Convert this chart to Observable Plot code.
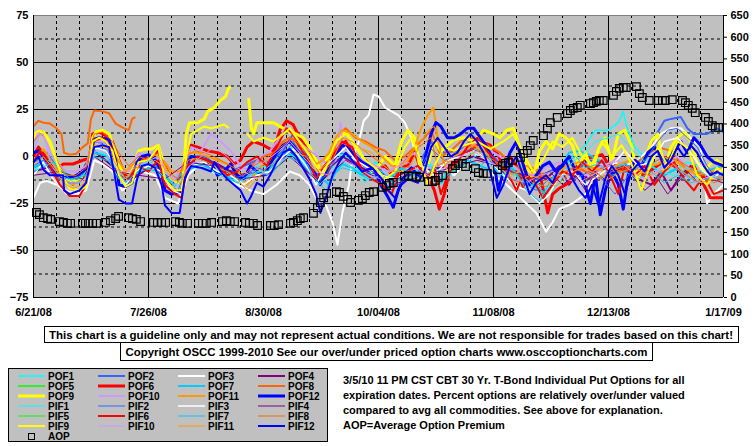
<!DOCTYPE html>
<html><head><meta charset="utf-8">
<script src="https://cdn.jsdelivr.net/npm/d3@7"></script>
<script src="https://cdn.jsdelivr.net/npm/@observablehq/plot@0.6"></script>
<style>
body{margin:0;background:#fff;width:755px;height:446px;position:relative;overflow:hidden;font-family:"Liberation Sans",Arial,sans-serif}
#chart{position:absolute;left:0;top:0}
#below{position:absolute;left:0;top:0}
</style></head><body>
<div id="chart"></div>
<svg id="below" width="755" height="446"></svg>
<script>
// ---- axis / tick data ----
const tickDays = [0, 35, 70, 105, 140, 175, 210];
const tickLabels = ["6/21/08", "7/26/08", "8/30/08", "10/04/08", "11/08/08", "12/13/08", "1/17/09"];
const leftTicks = [-75, -50, -25, 0, 25, 50, 75];
const rightTicks = [0, 50, 100, 150, 200, 250, 300, 350, 400, 450, 500, 550, 600, 650];
const rightMax = 650;

// ---- series (x = days since 6/21/08, y = percent over/under) ----
const pof1 = [[0,-5],[5,0],[9,-8],[14,-12],[18,5],[22,3],[26,-10],[30,-8],[35,-2],[40,-10],[44,-14],[48,0],[53,-2],[58,-8],[63,-12],[68,-5],[73,-6],[78,5],[83,-3],[87,-12],[90,-8],[94,2],[98,-5],[101,-12],[104,-3],[108,-8],[112,-10],[116,-8],[120,-2],[124,-12],[128,-5],[132,0],[136,5],[140,-3],[144,-10],[148,-5],[152,-12],[156,-18],[160,-10],[164,0],[168,6],[171,14],[175,14],[178,18],[179.5,24],[180.5,16],[183,5],[187,-2],[191,-5],[195,-8],[199,-3],[203,-5],[207,-10],[210,-8]];
const pof2 = [[0,-3],[4,2],[8,-8],[12,-12],[16,-8],[18.5,8],[22,7],[25,-8],[29,-10],[33,-3],[37,-1],[40,-10],[44,-12],[47,0],[52,0],[56,-5],[60,-8],[64,-5],[68,-2],[72,-3],[76,3],[79,12],[82,5],[86,-10],[89,-6],[93,6],[97,3],[101,-3],[105,-6],[109,-15],[113,-8],[117,-5],[121,8],[125,2],[129,3],[133,8],[137,6],[141,-2],[145,-8],[149,-10],[153,-12],[157,-8],[161,-5],[165,-8],[169,-2],[173,-3],[177,-4],[181,-5],[184,-3],[187,3],[190,13],[192,19],[194,20],[197,21],[199,15],[201,12],[205,12],[208,15],[210,13]];
const pof3 = [[0,-22],[2,-14],[4,-13],[7,-15],[10,-18],[13,-20],[16,-18],[18.5,-2],[21,-4],[24,-8],[27,-18],[30,-14],[33,-8],[37,-10],[40,-22],[44,-25],[47,-10],[50,-5],[54,-8],[58,-10],[62,-15],[66,-18],[70,-20],[74,-15],[78,-8],[81,-10],[84,-15],[86,-22],[87.5,-26],[89,-26],[91,-35],[92.5,-47],[94,-30],[96,-15],[97,-2],[99,8],[100.5,19],[102,22],[103.5,33],[105,32],[107,26],[109,24],[111,22],[113,18],[115,10],[117,-3],[119,-6],[121,-10],[124,-5],[128,-10],[132,-2],[136,2],[140,-10],[144,-15],[147,-20],[150,-25],[153,-30],[156,-40],[158,-35],[160,-28],[164,-25],[168,-20],[172,-8],[176,-3],[180,-5],[184,-2],[188,5],[191,12],[194,15],[197,15],[200,10],[203,5],[205,-25],[207,-20],[210,-15]];
const pof4 = [[0,-8],[6,-5],[12,-15],[18.5,3],[24,-5],[30,-12],[36,-5],[42,-15],[48,-5],[55,-3],[62,-10],[70,-8],[78,2],[86,-12],[94,0],[102,-8],[110,-12],[118,-8],[126,-5],[134,0],[142,-5],[150,-10],[156,-12],[160,-5],[163,-15],[166,-8],[169,-12],[172,-5],[176,-10],[180,-4],[184,-12],[188,-15],[191,-8],[194,-18],[197,-10],[200,-5],[204,-12],[207,-8],[210,-10]];
const pof5 = [[0,0],[1.5,5],[4,-1],[7,-7],[9,-4],[12,-4],[15,-2],[17,-1],[18,12],[20,13],[22,11],[24,8],[26,-2],[28,-10],[30,-8],[32,-3],[35,0],[38,3],[40,-5],[42,-12],[45,-12],[46.5,0],[48,6],[50,5],[53,3],[56,2],[59,0],[61,-4],[63,-2],[65,5],[67,8],[70,6],[73,3],[75,14],[77,19],[79,17],[81,10],[83,5],[85,0],[87,-8],[89,-10],[91,-3],[93,5],[95,8],[97,2],[99,-5],[101,-2],[104,-8],[107,-5],[110,-12],[112,-5],[114,-5],[116,3],[118,-8],[120,-10],[122,-18],[123.5,-28],[125,-20],[127,-5],[130,2],[133,3],[136,8],[139,6],[141,2],[143,-5],[145,0],[147,-5],[149,-16],[151,-6],[154,-8],[156.5,-30],[158,-20],[160,-17],[163,-14],[165,-6],[168,-1],[171,0],[173,1],[175,-4],[178,-6],[180,-7],[183,-8],[186,-10],[189,-6],[192,-2],[195,-5],[198,-10],[201,-5],[204,-15],[206,-22],[210,-22]];
const pof6 = [[0,0],[1.5,5],[4,-1],[7,-7],[9,-4],[12,-4],[15,-2],[17,-1],[18,12],[20,13],[22,11],[24,8],[26,-2],[28,-10],[30,-8],[32,-3],[35,0],[38,3],[40,-5],[42,-12],[45,-12],[46.5,0],[48,6],[50,5],[53,3],[56,2],[59,0],[61,-4],[63,-2],[65,5],[67,8],[70,6],[73,3],[75,14],[77,19],[79,17],[81,10],[83,5],[85,0],[87,-8],[89,-10],[91,-3],[93,5],[95,8],[97,2],[99,-5],[101,-2],[104,-8],[107,-5],[110,-12],[112,-5],[114,-5],[116,3],[118,-8],[120,-10],[122,-18],[123.5,-28],[125,-20],[127,-5],[130,2],[133,3],[136,8],[139,6],[141,2],[143,-5],[145,0],[147,-5],[149,-16],[151,-6],[154,-8],[156.5,-30],[158,-20],[160,-17],[163,-14],[165,-6],[168,-1],[171,0],[173,1],[175,-4],[178,-6],[180,-7],[183,-8],[186,-10],[189,-6],[192,-2],[195,-5],[198,-10],[201,-5],[204,-15],[206,-22],[210,-22]];
const pof7 = [[0,-6],[5,-2],[10,-10],[15,-12],[18.5,2],[23,0],[27,-12],[32,-8],[37,-5],[42,-14],[46,-8],[51,-4],[56,-8],[61,-12],[66,-10],[71,-8],[76,2],[80,0],[85,-8],[88,-12],[90,-15],[92,-8],[94,-4],[97,-6],[100,-10],[104,-8],[108,-12],[112,-6],[116,-10],[120,-4],[124,-14],[128,-6],[132,-2],[136,-5],[140,-8],[144,-3],[148,-12],[152,-15],[156,-20],[160,-8],[163,2],[166,3],[169,1],[172,-2],[176,-6],[180,-4],[184,-8],[188,-5],[192,-10],[196,-6],[200,-12],[204,-8],[210,-5]];
const pof8 = [[0,16],[1.5,19],[3,18],[5,17.5],[7,15],[8.5,12],[9.3,2],[11,1],[13,1.5],[15,5],[16.5,7],[17.5,20],[18.5,24.5],[21,24],[23,23],[25,17.5],[27,15.5],[29,14],[30,20],[31,21],[31.5,null],[66,-5],[70,0],[73,2],[76,8],[78,10],[82,5],[85,0],[88,-8],[91,0],[93,12],[95,15],[98,10],[101,8],[104,5],[107,3],[110,-2],[113,0],[116,5],[119,10],[121,14],[124,0],[127,3],[130,8],[134,10],[138,6],[142,2],[146,-5],[150,-8],[154,-10],[158,-12],[162,-8],[166,-6],[170,-10],[174,-5],[178,-8],[182,-5],[186,0],[190,5],[194,3],[198,-5],[202,-8],[206,-10],[210,-12]];
const pof9 = [[0,10],[1.5,13],[3,13],[5,8],[7,-2],[9,-10],[11,-13],[14,-13],[16,-10],[17,-6],[18,10],[19,13],[21,14],[23,12],[25,2],[27,-8],[29,-9],[31,-2],[32,3],[34,4],[36,4],[38,6],[40,-6],[42,-12],[44,-14],[45.5,-12],[46.5,12],[47.5,18],[50,18],[52,20],[53,24],[55,26],[57,30],[58.5,32],[59.3,36],[60,37],[60.5,null],[65.5,31],[66.3,15],[67,12],[68,18],[70,18],[73,18],[75,16],[78,13],[80,12],[82,10],[84,5],[86,-2],[87.5,-8],[89,-3],[91,5],[93,10],[95,13],[97,8],[99,3],[101,-3],[103,-8],[105,-5],[107,0],[110,-5],[112,8],[114,14],[116,10],[118,-10],[120,-5],[122,8],[124,3],[126,6],[128,9],[131,10],[134,8],[137,14],[140,12],[142,10],[144,14],[146,15],[148,5],[150,-5],[152,-12],[154,3],[156,8],[158,4],[160,12],[162,10],[164,6],[166,-5],[168,2],[170,-8],[172,4],[174,10],[176,-3],[178,12],[180,14],[182,6],[184,-12],[186,-2],[188,8],[190,12],[192,-8],[194,5],[196,10],[198,13],[200,8],[202,-3],[204,-8],[206,-4],[208,-2],[210,-5]];
const pof10 = [[0,7],[2,15],[4,8],[5,2],[7,-3],[10,-8],[13,-8],[16,-5],[18,8],[21,8],[24,2],[26,-8],[29,-8],[32,2],[35,0],[38,5],[40,-8],[43,-12],[46,-3],[48,5],[51,3],[54,12],[57,8],[60,3],[63,-5],[66,-8],[69,0],[72,3],[75,10],[77,16],[79,12],[82,6],[85,2],[88,-2],[90,-5],[92,-2],[93.5,18],[94,5],[97,3],[100,-2],[104,-5],[108,-8],[112,-3],[116,2],[120,-5],[124,-10],[128,0],[132,5],[136,8],[140,2],[144,-2],[148,-8],[152,-10],[156,-6],[160,-3],[164,-8],[168,-10],[172,-6],[176,-3],[180,2],[184,-5],[188,-10],[192,-5],[196,0],[200,-8],[204,-12],[210,-10]];
const pof11 = [[0,-2],[3,4],[6,-4],[9,-12],[12,-15],[15,-12],[17,-6],[18.5,10],[22,9],[25,0],[28,-8],[31,-3],[34,-2],[37,1],[40,-3],[42,-8],[45,-8],[47,2],[50,2],[53,0],[56,-2],[59,-4],[62,-8],[65,-15],[68,-8],[71,-2],[74,2],[77,8],[80,6],[83,4],[86,-4],[88,-2],[90,2],[92,10],[94,14],[97,12],[100,8],[103,5],[106,0],[109,-5],[112,-5],[114,-2],[116,5],[118,15],[120,22],[121.7,26],[123,10],[125,-5],[128,0],[131,3],[134,6],[138,2],[142,-5],[146,-10],[150,-5],[154,-8],[158,-12],[162,-5],[166,-3],[170,-6],[174,-8],[178,-4],[182,-2],[186,-6],[190,-4],[194,0],[198,-6],[202,-10],[206,-8],[210,-6]];
const pof12 = [[0,2],[1.5,3],[3,0],[5,-5],[7,-10],[9,-11],[12,-11],[15,-8],[17,-5],[18.3,9],[20,10],[23,9],[25,-2],[26,-15],[28,-16],[30,-14],[31.5,-3],[33,0],[35,1],[37,-2],[39,-8],[40,-18],[42,-20],[45,-19],[46.3,-5],[48,0],[51,-1],[54,-3],[56,-10],[58,-8],[60,-4],[62,-10],[64,-12],[66,-5],[68,-8],[70,-10],[72,-4],[74,2],[76,6],[78,8],[80,4],[82,0],[84,-4],[86,-10],[87.3,-15],[88.5,-10],[90,-4],[92,0],[94,6],[96,4],[98,0],[100,-3],[102,-5],[104,-8],[106,-16],[108,-22],[109.5,-27],[111,-18],[113,-10],[115,-6],[117,-10],[119,-2],[121,12],[122.5,18],[124,16],[126,10],[128,10],[130,12],[132,15],[134,15],[136,10],[138,5],[140,-2],[141.5,-18],[143,-8],[145,2],[147,8],[149,-4],[151,-15],[153,-10],[155,-5],[157,-3],[159,-8],[161,-5],[163,0],[165,-8],[167,-10],[169.5,-25],[171,-10],[172.5,-31],[174,-18],[176,-8],[178,-15],[179.5,-28],[181,-10],[183,-2],[185,-5],[187,2],[189,5],[191,0],[193,-3],[195,3],[197,8],[199,2],[201,10],[203,6],[205,0],[207,-3],[210,-5]];
const pif1 = [[0,-8],[4,-3],[8,-10],[13,-14],[17,-6],[18.5,3],[22,1],[26,-12],[30,-10],[35,-5],[40,-12],[44,-16],[48,-3],[53,-5],[58,-10],[63,-14],[68,-8],[73,-8],[78,2],[83,-6],[87,-15],[90,-10],[94,-2],[98,-8],[101,-14],[104,-6],[108,-10],[112,-13],[116,-10],[120,-4],[124,-15],[128,-8],[132,-3],[136,2],[140,-6],[144,-12],[148,-8],[152,-16],[156,-22],[160,-14],[164,-3],[168,2],[171,8],[175,10],[178,12],[180,8],[183,2],[187,-4],[191,-8],[195,-10],[199,-6],[203,-8],[207,-12],[210,-10]];
const pif2 = [[0,-5],[3,-2],[6,-10],[10,-14],[14,-14],[17,-8],[18.5,5],[22,4],[25,-10],[29,-14],[33,-6],[37,-4],[40,-14],[44,-18],[47,-4],[52,-4],[56,-8],[60,-12],[64,-10],[68,-6],[72,-8],[76,0],[79,8],[82,0],[86,-14],[89,-10],[93,2],[97,0],[101,-6],[105,-10],[109,-18],[113,-12],[117,-8],[121,4],[125,-2],[129,0],[133,4],[137,2],[141,-6],[145,-12],[149,-14],[153,-18],[157,-12],[161,-8],[165,-12],[169,-8],[173,-12],[177,-20],[181,-10],[184,-6],[187,0],[190,8],[193,14],[196,15],[199,10],[202,5],[205,-5],[208,-12],[210,-12]];
const pif3 = [[0,-10],[3,-3],[6,-12],[10,-20],[14,-20],[17,-12],[18.5,5],[22,3],[25,-5],[28,-15],[31,-8],[35,-5],[39,-8],[42,-18],[45,-20],[48,-5],[52,-3],[56,-8],[60,-10],[64,-15],[68,-10],[72,-8],[76,0],[79,4],[83,-5],[86,-15],[89,-5],[92,0],[95,5],[98,-2],[102,-6],[106,-10],[110,-12],[114,-8],[118,-5],[122,-10],[126,-2],[130,0],[134,3],[138,-2],[142,-8],[146,-15],[150,-18],[154,-25],[157,-20],[160,-10],[164,-8],[168,-15],[172,-10],[176,-5],[180,3],[184,-5],[188,-3],[192,8],[196,10],[200,2],[204,-8],[207,-12],[210,-6]];
const pif4 = [[0,-10],[8,-8],[15,-12],[18.5,0],[25,-8],[32,-10],[40,-12],[47,-3],[55,-5],[63,-12],[71,-10],[78,0],[87,-14],[95,-2],[103,-10],[111,-14],[119,-10],[127,-6],[135,-2],[143,-6],[151,-12],[157,-8],[161,-15],[165,-10],[168,-18],[171,-8],[175,-14],[178,-6],[182,-10],[186,-18],[190,-12],[193,-20],[196,-14],[199,-8],[203,-15],[206,-12],[210,-14]];
const pif5 = [[0,-3],[2,3],[5,-5],[8,-15],[11,-21],[14,-21],[16,-15],[18,8],[21,10],[24,4],[26,-10],[29,-12],[32,-5],[35,-8],[38,-2],[40,-15],[43,-20],[45,-22],[47,-5],[50,0],[53,-2],[56,-5],[59,-10],[62,-8],[65,-3],[68,0],[71,-5],[74,5],[77,15],[79,12],[81,5],[84,-3],[86,-12],[88,-6],[91,0],[94,8],[97,5],[100,-8],[103,-12],[106,-15],[109,-20],[111,-10],[114,-8],[117,-5],[120,-12],[122,-5],[124,-20],[126,-10],[129,-3],[132,5],[135,10],[138,3],[141,-3],[144,-8],[147,-18],[149,-10],[152,-12],[155,-22],[158,-15],[161,-8],[164,-10],[167,-3],[170,-8],[173,-2],[176,-12],[178,-20],[180,-5],[183,-10],[186,-5],[189,-15],[192,-8],[195,-3],[198,-12],[201,-18],[204,-10],[207,-20],[210,-18]];
const pif6 = [[0,-3],[2,3],[5,-5],[8,-15],[11,-21],[14,-21],[16,-15],[18,8],[21,10],[24,4],[26,-10],[29,-12],[32,-5],[35,-8],[38,-2],[40,-15],[43,-20],[45,-22],[47,-5],[50,0],[53,-2],[56,-5],[59,-10],[62,-8],[65,-3],[68,0],[71,-5],[74,5],[77,15],[79,12],[81,5],[84,-3],[86,-12],[88,-6],[91,0],[94,8],[97,5],[100,-8],[103,-12],[106,-15],[109,-20],[111,-10],[114,-8],[117,-5],[120,-12],[122,-5],[124,-20],[126,-10],[129,-3],[132,5],[135,10],[138,3],[141,-3],[144,-8],[147,-18],[149,-10],[152,-12],[155,-22],[158,-15],[161,-8],[164,-10],[167,-3],[170,-8],[173,-2],[176,-12],[178,-20],[180,-5],[183,-10],[186,-5],[189,-15],[192,-8],[195,-3],[198,-12],[201,-18],[204,-10],[207,-20],[210,-18]];
const pif7 = [[0,-8],[6,-3],[11,-12],[16,-10],[18.5,0],[24,-3],[28,-14],[33,-6],[38,-8],[43,-16],[47,-6],[52,-6],[57,-10],[62,-14],[67,-8],[72,-10],[77,0],[81,-3],[86,-12],[89,-18],[91,-10],[94,-6],[98,-8],[102,-12],[106,-10],[110,-14],[114,-8],[118,-12],[122,-6],[126,-10],[130,-4],[134,-8],[138,-2],[142,-10],[146,-6],[150,-18],[154,-24],[157,-14],[161,-4],[165,0],[168,-6],[172,-4],[176,-10],[180,-8],[184,-12],[188,-8],[192,-14],[196,-10],[200,-14],[205,-12],[210,-10]];
const pif8 = [[0,8],[2,12],[4,10],[6,3],[8,-5],[10,-10],[13,-10],[16,-6],[18.5,12],[21,13],[24,8],[26,2],[29,-5],[32,0],[35,-2],[38,2],[41,-8],[44,-12],[46.5,0],[49,3],[52,2],[55,0],[58,-3],[61,-6],[64,-10],[67,-5],[70,-2],[73,2],[76,6],[79,10],[82,4],[85,-2],[88,-10],[91,-2],[94,10],[97,8],[100,4],[103,0],[106,-4],[109,-8],[112,-4],[115,2],[118,6],[121,10],[123,-5],[126,-2],[129,4],[132,6],[136,3],[140,-2],[144,-6],[148,-10],[152,-14],[156,-16],[160,-10],[164,-6],[168,-8],[172,-12],[176,-8],[180,-5],[184,-10],[188,-4],[192,0],[196,-2],[200,-6],[204,-10],[207,-14],[210,-12]];
const pif9 = [[0,12],[2,14],[4,10],[6,3],[8,-8],[11,-17],[14,-18],[16,-16],[18,8],[20,10],[22,8],[24,3],[26,-10],[28,-16],[30,-14],[32,-3],[35,-2],[38,5],[40,-12],[43,-18],[45,-18],[46.5,0],[48,12],[50,14],[52,16],[54,15],[56,16],[58,17],[59.5,15],[60.5,null],[65,12],[67,8],[70,10],[73,8],[76,12],[78,15],[80,10],[83,3],[86,-5],[88,-10],[90,-2],[92,8],[95,12],[98,6],[101,-2],[104,-6],[107,-12],[110,-8],[113,5],[115,10],[117,2],[120,-15],[122,-5],[125,5],[128,3],[131,6],[135,8],[139,4],[143,8],[146,12],[149,2],[152,-8],[155,-2],[158,8],[161,5],[164,10],[167,0],[170,-4],[173,8],[176,0],[179,6],[182,-4],[185,-18],[187,-8],[190,5],[193,-5],[196,8],[199,5],[202,-10],[205,-15],[208,-6],[210,-8]];
const pif10 = [[0,3],[2,12],[3,12],[5,-2],[8,-10],[11,-14],[14,-14],[17,-10],[18.5,3],[22,2],[25,-6],[28,-12],[31,-5],[34,-3],[38,0],[41,-10],[44,-16],[47,-6],[51,0],[55,5],[59,0],[62,-6],[66,-10],[70,-3],[74,2],[78,8],[82,0],[86,-8],[90,-10],[94,-2],[98,-5],[102,-10],[106,-12],[110,-6],[114,-3],[118,-8],[122,-12],[126,-4],[130,0],[134,3],[138,-2],[142,-6],[146,-12],[150,-14],[154,-10],[158,-8],[162,-12],[166,-14],[170,-10],[174,-6],[178,-2],[182,-8],[186,-12],[190,-8],[194,-3],[198,-10],[202,-14],[206,-10],[210,-12]];
const pif11 = [[0,-5],[3,0],[6,-6],[9,-14],[12,-17],[15,-15],[17,-8],[18.5,6],[22,5],[25,-4],[28,-12],[31,-6],[34,-5],[37,-2],[40,-6],[42,-12],[45,-14],[47,-2],[50,-1],[53,-3],[56,-6],[59,-8],[62,-12],[65,-18],[68,-12],[71,-6],[74,-2],[77,4],[80,2],[83,0],[86,-8],[88,-6],[90,-2],[92,6],[94,10],[97,8],[100,4],[103,2],[106,-4],[109,-8],[112,-8],[115,-4],[118,8],[120,14],[122,16],[124,2],[126,-8],[129,-4],[132,0],[135,3],[139,-2],[143,-8],[147,-14],[151,-10],[155,-12],[159,-16],[163,-9],[167,-6],[171,-9],[175,-12],[179,-8],[183,-6],[187,-10],[191,-8],[195,-4],[199,-10],[203,-14],[207,-12],[210,-10]];
const pif12 = [[0,-3],[1.5,0],[3,-7],[5,-10],[9,-10],[9.3,-18],[11,-20],[14,-18],[16,-14],[17.5,-2],[18.5,5],[21,6],[23,5],[24.5,-8],[26,-23],[28,-25],[30,-25],[31.5,-12],[33,-5],[35,-4],[37,-6],[39,-15],[40,-26],[42,-30],[44.5,-30],[46,-12],[48,-5],[51,-6],[54,-8],[55,-3],[57,-8],[59,-12],[61,-15],[63,-18],[65,-25],[66,-22],[68,-14],[70,-16],[72,-10],[74,-3],[76,2],[78,4],[80,0],[82,-6],[84,-12],[86,-20],[87.3,-30],[89,-22],[91,-10],[93,-3],[95,2],[97,-2],[100,-8],[103,-6],[106,-12],[108,-18],[110,-22],[112,-15],[114,-12],[117,-14],[119,-8],[121,5],[123,10],[125,5],[127,0],[129,2],[131,8],[133,12],[135,8],[137,2],[139,-8],[141,-22],[143,-15],[145,-5],[147,0],[149,-10],[151,-20],[153,-14],[156,-10],[158,-14],[160,-6],[162,-2],[164,-12],[166,-18],[168,-22],[170,-15],[172,-26],[174,-12],[176,-5],[178,-10],[180,-20],[182,-8],[184,-4],[186,-8],[188,0],[190,3],[192,-6],[194,-2],[196,5],[198,0],[200,6],[202,2],[204,-5],[206,-10],[208,-8],[210,-10]];

// Average Option Premium (right axis units)
const aop = [[0.9,196],[1.8,191],[3,184],[4.3,182],[5.2,180],[7.9,175],[9.1,173],[10.3,171],[11.3,171],[14.9,171],[15.8,171],[16.7,171],[18,171],[19.2,171],[21.9,173],[23.4,177],[25,182],[25.9,187],[28.9,184],[30.1,182],[31.3,180],[32.6,175],[36.5,173],[37.7,173],[39,173],[40.2,173],[43.2,175],[44.4,173],[45.3,171],[46.9,171],[50.2,171],[51.4,171],[52.6,171],[54.2,173],[57.5,175],[58.7,177],[59.9,175],[61.2,175],[64.5,173],[65.7,171],[66.9,171],[68.2,166],[72.1,166],[73.3,166],[74.6,168],[78.2,171],[79.1,173],[80.3,177],[81.2,182],[82.2,184],[85.2,194],[86.4,207],[87.3,219],[88.3,230],[89.2,240],[92.2,244],[93.1,242],[94.3,233],[95.6,226],[96.5,219],[98.9,224],[100.1,228],[101,235],[102.2,242],[103.5,244],[106.2,254],[107.4,258],[108.3,263],[109.5,265],[112.9,279],[114.1,281],[115.3,279],[116.5,279],[117.5,277],[120.2,267],[121.4,267],[122.3,270],[123.2,277],[124.5,281],[127.5,297],[128.4,304],[129.3,309],[130.5,309],[131.5,302],[134.5,297],[135.4,288],[136.9,286],[138.1,286],[141.2,295],[142.7,304],[143.6,309],[144.5,311],[145.8,316],[148.2,323],[149.1,332],[150.3,339],[151.2,350],[152.1,362],[155.2,373],[156.4,390],[157.3,403],[159.4,415],[162.5,424],[163.4,431],[164.3,436],[165.5,438],[166.4,443],[169.5,447],[170.4,449],[171.3,452],[172.2,454],[173.4,454],[176.5,466],[177.4,475],[178.3,482],[179.5,484],[180.4,484],[183.5,486],[184.4,470],[185.3,461],[187.4,454],[190.2,454],[191.4,454],[192.3,454],[194.4,456],[197.5,454],[198.4,449],[199.3,443],[200.5,436],[201.4,426],[204.5,415],[205.4,406],[206.6,396],[207.5,392],[208.5,392]];

const seriesNames = ["POF1","POF2","POF3","POF4","POF5","POF6","POF7","POF8","POF9","POF10","POF11","POF12","PIF1","PIF2","PIF3","PIF4","PIF5","PIF6","PIF7","PIF8","PIF9","PIF10","PIF11","PIF12"];
const seriesData = [pof1,pof2,pof3,pof4,pof5,pof6,pof7,pof8,pof9,pof10,pof11,pof12,pif1,pif2,pif3,pif4,pif5,pif6,pif7,pif8,pif9,pif10,pif11,pif12];
const seriesColors = ["#00FFFF","#3366FF","#FFFFFF","#800080","#00FF00","#FF0000","#00CCFF","#FF6600","#FFFF00","#CC99FF","#FF9900","#0000FF",
                      "#00FFFF","#3366FF","#FFFFFF","#800080","#00FF00","#FF0000","#00CCFF","#FF6600","#FFFF00","#CC99FF","#FF9900","#0000FF"];
const seriesWidths = [1.5,2,2,2,1.5,3,2,2,3,2,2,3, 1,1,1.5,1,1,2,1,1,2,1,1,2];

// ---- grid ----
const weeks = d3.range(0, 211, 7);
const solidX = weeks.filter(d => d % 35 === 0 && d > 0 && d < 210);
const dashedX = weeks.filter(d => d % 35 !== 0);
const solidY = [-50, -25, 0, 25, 50];
const dashedY = [-62.5, -37.5, -12.5, 12.5, 37.5, 62.5];
const toLeft = v => -75 + v * 150 / rightMax;

const lineMarks = seriesData.map((s, i) => Plot.line(s, {
  x: d => d[0], y: d => d[1], stroke: seriesColors[i], strokeWidth: seriesWidths[i],
  strokeLinejoin: "round", strokeLinecap: "butt"
}));

const chart = Plot.plot({
  width: 755, height: 322,
  marginTop: 15, marginLeft: 33, marginRight: 32, marginBottom: 25,
  x: {domain: [0, 210]},
  y: {domain: [-75, 75]},
  style: {background: "transparent", fontFamily: "'Liberation Sans', Arial, sans-serif", fontSize: "11px", fontWeight: "bold", color: "black"},
  marks: [
    Plot.frame({fill: "#c0c0c0", stroke: null}),
    Plot.ruleY(dashedY, {stroke: "black", strokeDasharray: "3,3", strokeWidth: 1}),
    Plot.ruleX(dashedX, {stroke: "black", strokeDasharray: "3,3", strokeWidth: 1}),
    Plot.ruleY(solidY, {stroke: "black", strokeWidth: 1}),
    Plot.ruleX(solidX, {stroke: "black", strokeWidth: 1}),
    ...lineMarks,
    Plot.dot(aop, {x: d => d[0], y: d => toLeft(d[1]), symbol: "square", r: 4.3, stroke: "black", strokeWidth: 1.2, fill: "none"}),
    Plot.ruleY([75], {stroke: "#808080"}),
    Plot.ruleY([-75], {stroke: "black"}),
    Plot.ruleX([0], {stroke: "black"}),
    Plot.ruleX([210], {stroke: "black"}),
    Plot.axisY(leftTicks, {anchor: "left", tickSize: 0, tickPadding: 5, label: null}),
    Plot.axisY(rightTicks.map(toLeft), {anchor: "right", tickSize: 3, tickPadding: 4, label: null,
      tickFormat: d => String(Math.round((d + 75) * rightMax / 150))}),
    Plot.axisX(tickDays, {anchor: "bottom", tickSize: 0, tickPadding: 11, label: null,
      tickFormat: d => tickLabels[tickDays.indexOf(d)]})
  ]
});
document.getElementById("chart").appendChild(chart);

// ---- captions and legend (below the plot) ----
const captionTop = "This chart is a guideline only and may not represent actual conditions. We are not responsible for trades based on this chart!";
const captionCopy = "Copyright OSCC 1999-2010 See our over/under priced option charts www.osccoptioncharts.com";
const noteLines = ["3/5/10 11 PM CST CBT 30 Yr. T-Bond Individual Put Options for all",
                   "expiration dates. Percent options are relatively over/under valued",
                   "compared to avg all commodities. See above for explanation.",
                   "AOP=Average Option Premium"];

const svg = d3.select("#below");
const narrow = "'Liberation Sans Narrow','Arial Narrow','Liberation Sans',Arial,sans-serif";
svg.append("rect").attr("x", 44.5).attr("y", 326.5).attr("width", 694).attr("height", 16).attr("fill", "white").attr("stroke", "black");
svg.append("text").attr("x", 391).attr("y", 339).attr("text-anchor", "middle").attr("font-family", narrow)
  .attr("font-size", 11).attr("font-weight", "bold").attr("textLength", 684).attr("lengthAdjust", "spacingAndGlyphs").text(captionTop);
svg.append("rect").attr("x", 120.5).attr("y", 342.5).attr("width", 532).attr("height", 18).attr("fill", "white").attr("stroke", "black");
svg.append("text").attr("x", 386.5).attr("y", 356).attr("text-anchor", "middle").attr("font-family", narrow)
  .attr("font-size", 11.5).attr("font-weight", "bold").attr("textLength", 522).attr("lengthAdjust", "spacingAndGlyphs").text(captionCopy);

// legend box
svg.append("rect").attr("x", 8.5).attr("y", 368.5).attr("width", 319).attr("height", 73).attr("fill", "#c0c0c0").attr("stroke", "black");
const colX = [18, 98, 178, 258];
seriesNames.forEach((name, i) => {
  const row = Math.floor(i / 4), col = i % 4;
  const y = 376 + row * 10;
  svg.append("line").attr("x1", colX[col]).attr("x2", colX[col] + 27).attr("y1", y).attr("y2", y)
    .attr("stroke", seriesColors[i]).attr("stroke-width", seriesWidths[i]);
  svg.append("text").attr("x", colX[col] + 30).attr("y", y + 3.5).attr("font-family", "'Liberation Sans',Arial,sans-serif")
    .attr("font-size", 10).attr("font-weight", "bold").text(name);
});
svg.append("rect").attr("x", 28.5).attr("y", 433.5).attr("width", 6).attr("height", 6).attr("fill", "none").attr("stroke", "black");
svg.append("text").attr("x", 48).attr("y", 439.5).attr("font-family", "'Liberation Sans',Arial,sans-serif")
  .attr("font-size", 10).attr("font-weight", "bold").text("AOP");

noteLines.forEach((t, i) => {
  svg.append("text").attr("x", 343).attr("y", 384 + i * 15).attr("font-family", "'Liberation Sans',Arial,sans-serif")
    .attr("font-size", 11).attr("font-weight", "bold").text(t);
});
</script>
</body></html>
